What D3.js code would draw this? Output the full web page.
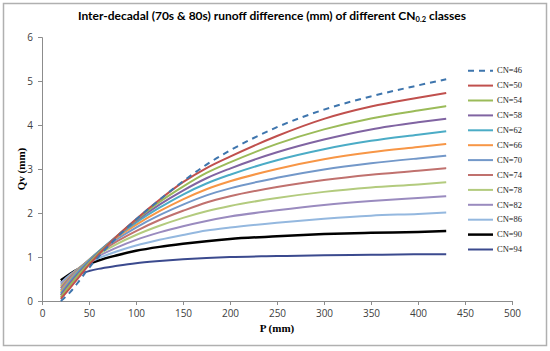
<!DOCTYPE html>
<html>
<head>
<meta charset="utf-8">
<script src="https://cdn.jsdelivr.net/npm/d3@7"></script>
<style>
  body { margin: 0; background: #fff; }
  svg { display: block; }
</style>
</head>
<body>
<div id="chart"></div>
<script>
// rainfall depth P (mm) where the curves were read
const pValues = [20, 30, 40, 50, 60, 80, 100, 125, 150, 175, 200, 250, 300, 350, 400, 430];

const cnClasses = ["CN=46", "CN=50", "CN=54", "CN=58", "CN=62", "CN=66", "CN=70",
                   "CN=74", "CN=78", "CN=82", "CN=86", "CN=90", "CN=94"];

// Qv (mm) per class
const cn46 = [0.00, 0.20, 0.47, 0.75, 1.00, 1.45, 1.85, 2.30, 2.72, 3.10, 3.42, 3.95, 4.35, 4.65, 4.90, 5.04];
const cn50 = [0.05, 0.30, 0.56, 0.82, 1.05, 1.48, 1.86, 2.30, 2.70, 3.02, 3.28, 3.75, 4.14, 4.42, 4.62, 4.73];
const cn54 = [0.09, 0.36, 0.62, 0.86, 1.08, 1.48, 1.84, 2.25, 2.60, 2.91, 3.15, 3.57, 3.90, 4.15, 4.33, 4.43];
const cn58 = [0.13, 0.41, 0.66, 0.89, 1.10, 1.48, 1.82, 2.19, 2.51, 2.79, 3.01, 3.38, 3.67, 3.90, 4.06, 4.14];
const cn62 = [0.17, 0.45, 0.70, 0.92, 1.12, 1.47, 1.78, 2.12, 2.42, 2.67, 2.87, 3.20, 3.45, 3.64, 3.78, 3.86];
const cn66 = [0.21, 0.48, 0.72, 0.93, 1.12, 1.45, 1.73, 2.04, 2.31, 2.54, 2.72, 3.00, 3.22, 3.38, 3.50, 3.57];
const cn70 = [0.25, 0.51, 0.74, 0.94, 1.11, 1.41, 1.67, 1.95, 2.19, 2.40, 2.56, 2.80, 2.99, 3.13, 3.24, 3.30];
const cn74 = [0.29, 0.54, 0.75, 0.93, 1.09, 1.36, 1.59, 1.84, 2.05, 2.24, 2.38, 2.59, 2.75, 2.87, 2.96, 3.02];
const cn78 = [0.33, 0.56, 0.76, 0.92, 1.06, 1.30, 1.50, 1.71, 1.89, 2.04, 2.16, 2.34, 2.48, 2.58, 2.65, 2.70];
const cn82 = [0.37, 0.58, 0.76, 0.90, 1.02, 1.22, 1.39, 1.56, 1.70, 1.82, 1.92, 2.06, 2.18, 2.27, 2.34, 2.38];
const cn86 = [0.41, 0.60, 0.75, 0.87, 0.97, 1.13, 1.26, 1.39, 1.50, 1.60, 1.67, 1.78, 1.87, 1.94, 1.98, 2.01];
const cn90 = [0.47, 0.62, 0.74, 0.84, 0.92, 1.04, 1.14, 1.23, 1.30, 1.36, 1.41, 1.47, 1.52, 1.55, 1.57, 1.59];
const cn94 = [0.43, 0.54, 0.62, 0.68, 0.73, 0.80, 0.86, 0.91, 0.95, 0.98, 1.00, 1.02, 1.04, 1.05, 1.06, 1.06];

const seriesValues = [cn46, cn50, cn54, cn58, cn62, cn66, cn70, cn74, cn78, cn82, cn86, cn90, cn94];

const xTicks = [0, 50, 100, 150, 200, 250, 300, 350, 400, 450, 500];
const yTicks = [0, 1, 2, 3, 4, 5, 6];

const colors = ["#3E75AD", "#C0504D", "#9BBB59", "#8064A2", "#4BACC6", "#F79646", "#7398C9",
                "#C0716E", "#B3CB7E", "#9A8BBF", "#94B8DF", "#000000", "#3B4A8E"];

const W = 550, H = 351;

const svg = d3.select("#chart")
  .append("svg")
  .attr("width", W)
  .attr("height", H);

// outer frame
svg.append("rect")
  .attr("x", 3.5).attr("y", 3.5)
  .attr("width", 543).attr("height", 342)
  .attr("fill", "#fff")
  .attr("stroke", "#b0b0b0")
  .attr("stroke-width", 1.5);

const x = d3.scaleLinear().domain([0, 500]).range([42, 512]);
const y = d3.scaleLinear().domain([0, 6]).range([301, 37]);

// title
const title = svg.append("text")
  .attr("x", 272)
  .attr("y", 20)
  .attr("text-anchor", "middle")
  .attr("font-family", "Lato, 'Open Sans', sans-serif")
  .attr("font-weight", "bold")
  .attr("font-size", 12)
  .attr("fill", "#000");
title.append("tspan").text("Inter-decadal (70s & 80s) runoff difference (mm) of different CN");
title.append("tspan").attr("font-size", 7.5).attr("dy", 2).text("0.2");
title.append("tspan").attr("dy", -2).text(" classes");

// axes
const xAxis = svg.append("g")
  .attr("transform", `translate(0,${y(0)})`)
  .call(d3.axisBottom(x).tickValues(xTicks).tickSize(4).tickPadding(5));

const yAxis = svg.append("g")
  .attr("transform", `translate(${x(0)},0)`)
  .call(d3.axisLeft(y).tickValues(yTicks).tickFormat(d3.format("d")).tickSize(4).tickPadding(5));

[xAxis, yAxis].forEach(g => {
  g.select(".domain").attr("stroke", "#8c8c8c");
  g.selectAll(".tick line").attr("stroke", "#8c8c8c");
  g.selectAll(".tick text")
    .attr("font-family", "'Open Sans', sans-serif")
    .attr("font-size", 10)
    .attr("fill", "#404040");
});

// axis titles
svg.append("text")
  .attr("x", 277)
  .attr("y", 332)
  .attr("text-anchor", "middle")
  .attr("font-family", "'Liberation Serif', serif")
  .attr("font-weight", "bold")
  .attr("font-size", 11)
  .text("P (mm)");

svg.append("text")
  .attr("transform", "translate(25,169) rotate(-90)")
  .attr("text-anchor", "middle")
  .attr("font-family", "'Liberation Serif', serif")
  .attr("font-weight", "bold")
  .attr("font-size", 11)
  .text("Qv (mm)");

// curves
const line = d3.line()
  .x(d => x(d.p))
  .y(d => y(d.q))
  .curve(d3.curveMonotoneX);

const series = cnClasses.map((name, i) => ({
  name,
  color: colors[i],
  dashed: i === 0,
  points: pValues.map((p, j) => ({ p, q: seriesValues[i][j] }))
}));

// draw from the last class to the first so CN=46 ends up on top
svg.append("g")
  .selectAll("path")
  .data(series.slice().reverse())
  .join("path")
    .attr("d", d => line(d.points))
    .attr("fill", "none")
    .attr("stroke", d => d.color)
    .attr("stroke-width", d => d.name === "CN=90" ? 2.5 : 2)
    .attr("stroke-dasharray", d => d.dashed ? "6,5" : null);

// legend
const legend = svg.append("g")
  .selectAll("g")
  .data(series)
  .join("g")
    .attr("transform", (d, i) => `translate(468,${70.7 + i * 14.9})`);

legend.append("line")
  .attr("x1", 0).attr("x2", 25)
  .attr("stroke", d => d.color)
  .attr("stroke-width", d => d.name === "CN=90" ? 2.5 : 2)
  .attr("stroke-dasharray", d => d.dashed ? "6,5" : null);

legend.append("text")
  .attr("x", 29)
  .attr("dy", "0.32em")
  .attr("font-family", "'Liberation Serif', serif")
  .attr("font-size", 8.5)
  .attr("fill", "#222")
  .text(d => d.name);
</script>
</body>
</html>
